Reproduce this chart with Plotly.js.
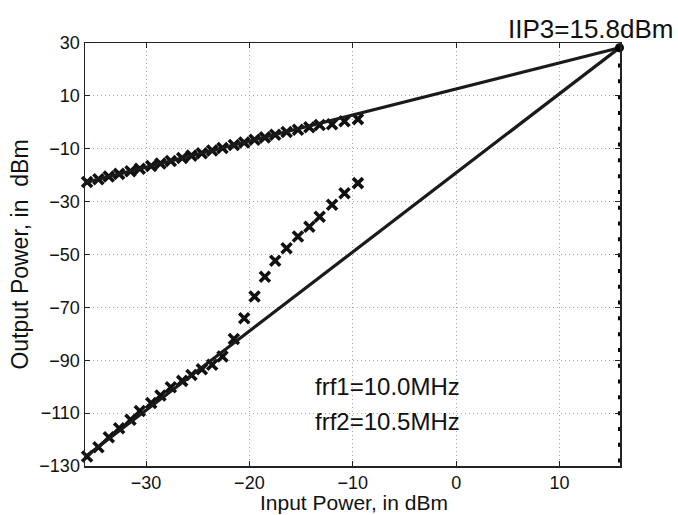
<!DOCTYPE html>
<html><head><meta charset="utf-8">
<script src="https://cdn.plot.ly/plotly-3.0.1.min.js"></script>
<style>html,body{margin:0;padding:0;background:#fff}#chart{width:678px;height:515px}</style>
</head><body><div id="chart"></div>
<script>
// Input power sweep (dBm)
const inputPower = [-35.7,-34.6,-33.6,-32.6,-31.5,-30.6,-29.5,-28.6,-27.6,-26.5,-25.6,-24.6,-23.6,-22.6,-21.5,-20.5,-19.5,-18.5,-17.5,-16.4,-15.3,-14.2,-13.2,-12.0,-10.8,-9.5];
// Fundamental output power (dBm)
const fundamentalOut = [-22.6,-21.5,-20.5,-19.5,-18.5,-17.6,-16.5,-15.6,-14.6,-13.5,-12.6,-11.7,-10.7,-9.7,-8.6,-7.6,-6.6,-5.7,-4.7,-3.7,-2.8,-1.9,-1.0,-0.7,0.4,1.2];
// Third-order intermod output power (dBm)
const im3Out = [-126.4,-122.9,-119.1,-115.7,-112.5,-109.2,-106.2,-103.3,-100.2,-97.8,-95.6,-93.4,-91.7,-88.6,-82.0,-74.1,-65.9,-58.4,-52.4,-47.6,-43.2,-39.5,-35.7,-31.2,-26.8,-23.0];
// Extrapolated lines and intercept
const iip3 = 15.8;
const oip3 = 28.2;
const fundLineX = [-35.9, iip3];
const fundLineY = [-22.8, oip3];
const im3LineX = [-35.9, iip3];
const im3LineY = [-126.6, oip3];
const vLineY = [oip3, -130];
const xTicks = [-30,-20,-10,0,10];
const yTicks = [-130,-110,-90,-70,-50,-30,-10,10,30];
const iip3Label = 'IIP3=' + iip3.toFixed(1) + 'dBm';
const freqLabels = ['frf1=10.0MHz', 'frf2=10.5MHz'];
const xTitle = 'Input Power, in dBm';
const yTitle = 'Output Power, in\u00a0 dBm';

const FONT = 'Liberation Sans, Arial, Helvetica, sans-serif';
const mk = {symbol:'x-thin', size:10, color:'#111', line:{color:'#111', width:3.6}};
const traces = [
  {x:inputPower, y:fundamentalOut, mode:'markers', marker:mk, cliponaxis:false, hoverinfo:'skip'},
  {x:inputPower, y:im3Out, mode:'markers', marker:mk, cliponaxis:false, hoverinfo:'skip'},
  {x:fundLineX, y:fundLineY, mode:'lines', line:{color:'#1a1a1a', width:3.2}, cliponaxis:false},
  {x:im3LineX, y:im3LineY, mode:'lines', line:{color:'#1a1a1a', width:3.2}, cliponaxis:false},
  {x:[iip3, iip3], y:vLineY, mode:'lines', line:{color:'#000', width:3, dash:'4px,11.8px'}, cliponaxis:false},
  {x:[iip3], y:[oip3], mode:'markers', marker:{symbol:'circle', size:9, color:'#000'}, cliponaxis:false}
];
const axisCommon = {
  showline:true, linecolor:'#222', linewidth:1.5, mirror:'ticks',
  ticks:'inside', ticklen:5, tickwidth:1, tickcolor:'#222',
  showgrid:true, gridcolor:'#a8a8a8', griddash:'1px,3px', gridwidth:1,
  zeroline:false, tickfont:{family:FONT, size:18, color:'#111'}
};
const layout = {
  width:678, height:515,
  margin:{l:85, r:58, t:43, b:49},
  paper_bgcolor:'#fff', plot_bgcolor:'#fff',
  showlegend:false,
  xaxis:Object.assign({}, axisCommon, {
    range:[-35.9, 15.85], tickmode:'array', tickvals:xTicks
  }),
  yaxis:Object.assign({}, axisCommon, {
    range:[-130, 30], tickmode:'array', tickvals:yTicks,
    title:{text:yTitle, font:{family:FONT, size:23, color:'#111'}, standoff:4}
  }),
  annotations:[
    {x:0.502, y:-0.1160, xref:'paper', yref:'paper', text:xTitle, showarrow:false, xanchor:'center', yanchor:'bottom', borderpad:0, font:{family:FONT, size:21, color:'#111'}},
    {x:-13.8, y:-100, xref:'x', yref:'y', text:freqLabels[0], showarrow:false, xanchor:'left', yanchor:'middle', font:{family:FONT, size:24, color:'#111'}},
    {x:-13.8, y:-113.2, xref:'x', yref:'y', text:freqLabels[1], showarrow:false, xanchor:'left', yanchor:'middle', font:{family:FONT, size:24, color:'#111'}},
    {x:1.104, y:1.033, xref:'paper', yref:'paper', text:iip3Label, showarrow:false, xanchor:'right', yanchor:'middle', font:{family:FONT, size:26, color:'#111'}}
  ]
};
Plotly.newPlot('chart', traces, layout, {displayModeBar:false, staticPlot:true});
</script></body></html>
